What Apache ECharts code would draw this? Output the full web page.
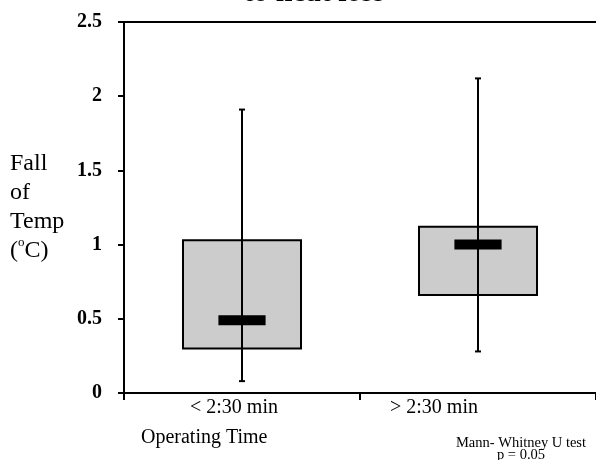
<!DOCTYPE html>
<html>
<head>
<meta charset="utf-8">
<script src="https://cdn.jsdelivr.net/npm/echarts@6/dist/echarts.min.js"></script>
<style>
  html, body { margin: 0; padding: 0; background: #fff; }
  #main { width: 596px; height: 460px; }
</style>
</head>
<body>
<div id="main"></div>
<script>
// data
var categories = ['< 2:30 min', '> 2:30 min'];
var whiskerLow = [0.08, 0.28];
var boxLow = [0.30, 0.66];
var medians = [0.49, 1.00];
var boxHigh = [1.03, 1.12];
var whiskerHigh = [1.91, 2.12];
var yTicks = [0, 0.5, 1, 1.5, 2, 2.5];

var serif = '"Liberation Serif", "Times New Roman", Times, serif';

var boxData = categories.map(function (c, i) {
    return [i, whiskerLow[i], boxLow[i], medians[i], boxHigh[i], whiskerHigh[i]];
});

var myChart = echarts.init(document.getElementById('main'));

function renderBox(params, api) {
    var i = api.value(0);
    var x = api.coord([i, 0])[0];
    var band = api.size([1, 0])[0];
    var yMin = api.coord([i, api.value(1)])[1];
    var yQ1 = api.coord([i, api.value(2)])[1];
    var yMed = api.coord([i, api.value(3)])[1];
    var yQ3 = api.coord([i, api.value(4)])[1];
    var yMax = api.coord([i, api.value(5)])[1];
    var line = { stroke: '#000', lineWidth: 2 };
    return {
        type: 'group',
        children: [
            { type: 'rect', shape: { x: x - band * 0.25, y: yQ3, width: band * 0.5, height: yQ1 - yQ3 },
              style: { fill: '#cccccc', stroke: '#000', lineWidth: 2 } },
            { type: 'line', shape: { x1: x, y1: yMax, x2: x, y2: yMin }, style: line },
            { type: 'line', shape: { x1: x - 3, y1: yMax, x2: x + 3, y2: yMax }, style: line },
            { type: 'line', shape: { x1: x - 3, y1: yMin, x2: x + 3, y2: yMin }, style: line },
            { type: 'rect', shape: { x: x - band * 0.1, y: yMed - 5, width: band * 0.2, height: 10 },
              style: { fill: '#000' } }
        ]
    };
}

var option = {
    backgroundColor: '#fff',
    animation: false,
    title: [
        { text: 'to heat loss', left: 309, top: -27, textAlign: 'center',
          textStyle: { fontFamily: serif, fontSize: 30, fontWeight: 'bold', color: '#000' } },
        { text: 'Operating Time', left: 136, top: 423,
          textStyle: { fontFamily: serif, fontSize: 20, fontWeight: 'normal', color: '#000' } },
        { text: 'Mann- Whitney U test\np = 0.05', left: 516, top: 432, textAlign: 'center',
          textStyle: { fontFamily: serif, fontSize: 14.5, fontWeight: 'normal', color: '#000', lineHeight: 12, align: 'center' } }
    ],
    grid: { left: 124, width: 478, top: 22, bottom: 67 },
    xAxis: [{
        type: 'category',
        data: categories,
        axisLine: { lineStyle: { color: '#000', width: 2 } },
        axisTick: { show: true, length: 7, lineStyle: { color: '#000', width: 2 } },
        axisLabel: {
            margin: 5,
            color: '#000',
            fontFamily: serif,
            fontSize: 20,
            formatter: function (v, idx) { return '{c' + idx + '|' + v + '}'; },
            rich: {
                c0: { fontFamily: serif, fontSize: 20, color: '#000', padding: [0, 16, 0, 0] },
                c1: { fontFamily: serif, fontSize: 20, color: '#000', padding: [0, 88, 0, 0] }
            }
        },
        splitLine: { show: false }
    }, {
        type: 'category',
        position: 'top',
        data: categories,
        axisLine: { lineStyle: { color: '#000', width: 2 } },
        axisTick: { show: false },
        axisLabel: { show: false }
    }],
    yAxis: {
        type: 'value',
        min: yTicks[0],
        max: yTicks[yTicks.length - 1],
        interval: 0.5,
        name: 'Fall\nof\nTemp\n{s|(}{o|o}{s|C)}',
        nameLocation: 'middle',
        nameRotate: 0,
        nameGap: 114,
        nameTextStyle: {
            fontFamily: serif, fontSize: 24, color: '#000', align: 'left', lineHeight: 29,
            rich: {
                s: { fontFamily: serif, fontSize: 24, color: '#000', lineHeight: 29 },
                o: { fontFamily: serif, fontSize: 13, color: '#000', verticalAlign: 'top', lineHeight: 29, padding: [0, 0, 8, 0] }
            }
        },
        axisLine: { show: true, lineStyle: { color: '#000', width: 2 } },
        axisTick: { show: true, length: 6, lineStyle: { color: '#000', width: 2 } },
        axisLabel: { margin: 22, color: '#000', fontFamily: serif, fontSize: 20, fontWeight: 'bold' },
        splitLine: { show: false }
    },
    series: [{
        type: 'custom',
        renderItem: renderBox,
        encode: { x: 0, y: [1, 2, 3, 4, 5] },
        data: boxData
    }]
};

myChart.setOption(option);
</script>
</body>
</html>
